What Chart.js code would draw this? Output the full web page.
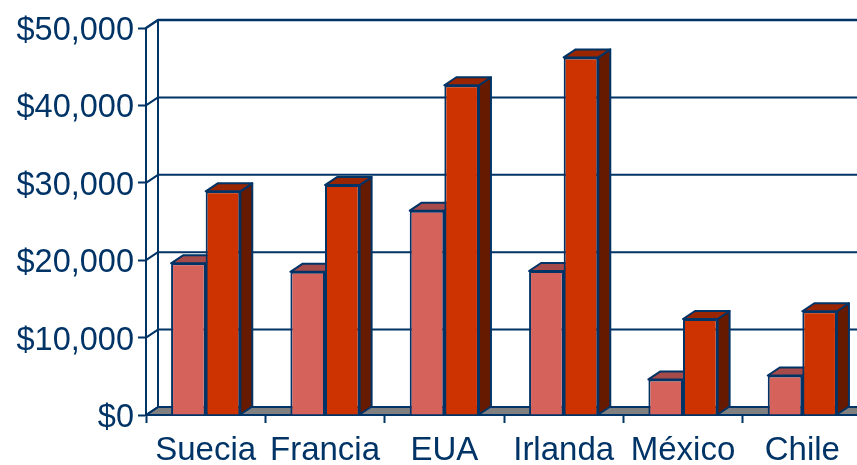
<!DOCTYPE html>
<html>
<head>
<meta charset="utf-8">
<style>
html, body { margin: 0; padding: 0; width: 857px; height: 465px; overflow: hidden; background: #fff; }
canvas { display: block; }
</style>
<script src="https://cdn.jsdelivr.net/npm/chart.js@4/dist/chart.umd.min.js"></script>
</head>
<body>
<canvas id="chart" width="862" height="465"></canvas>
<script>
const categories = ['Suecia', 'Francia', 'EUA', 'Irlanda', 'México', 'Chile'];
const lightValues = [19600, 18500, 26400, 18600, 4600, 5100];
const darkValues = [28900, 29700, 42600, 46200, 12400, 13400];
const yTicks = [0, 10000, 20000, 30000, 40000, 50000];

const navy = '#003366';
const depthX = 12;
const depthY = 8;

function poly(c, pts, fill, stroke, width) {
    c.beginPath();
    pts.forEach((p, i) => i ? c.lineTo(p[0], p[1]) : c.moveTo(p[0], p[1]));
    c.closePath();
    if (fill) {
        c.fillStyle = fill;
        c.fill();
    }
    if (stroke) {
        c.strokeStyle = stroke;
        c.lineWidth = width;
        c.stroke();
    }
}

// fake 3D: back wall, floor and the bar sides, all placed from the scales
const depthPlugin = {
    id: 'depth',
    beforeDatasetsDraw(chart) {
        const c = chart.ctx;
        const area = chart.chartArea;
        const y = chart.scales.y;
        c.save();
        c.lineJoin = 'round';

        poly(c, [
            [area.left, area.bottom],
            [area.left + depthX, area.bottom - depthY],
            [area.right + depthX, area.bottom - depthY],
            [area.right, area.bottom]
        ], '#808080', navy, 2);

        c.strokeStyle = navy;
        yTicks.forEach(v => {
            const py = y.getPixelForValue(v);
            c.lineWidth = v === 50000 ? 2.5 : 2;
            c.beginPath();
            c.moveTo(area.left, py);
            c.lineTo(area.left + depthX, py - depthY);
            c.lineTo(area.right + depthX, py - depthY);
            c.stroke();
        });
        c.lineWidth = 2;
        c.beginPath();
        c.moveTo(area.left + depthX, y.getPixelForValue(50000) - depthY);
        c.lineTo(area.left + depthX, area.bottom - depthY);
        c.stroke();

        const shades = [
            { top: '#A64B4A', side: '#7A3533' },
            { top: '#992600', side: '#661A00' }
        ];
        [0, 1].forEach(d => {
            chart.getDatasetMeta(d).data.forEach(bar => {
                const half = bar.width / 2;
                const l = bar.x - half;
                const r = bar.x + half;
                poly(c, [
                    [r, bar.y], [r + depthX, bar.y - depthY],
                    [r + depthX, bar.base - depthY], [r, bar.base]
                ], shades[d].side, navy, 2);
                poly(c, [
                    [l, bar.y], [l + depthX, bar.y - depthY],
                    [r + depthX, bar.y - depthY], [r, bar.y]
                ], shades[d].top, navy, 2);
            });
        });
        c.restore();
    }
};

new Chart(document.getElementById('chart').getContext('2d'), {
    type: 'bar',
    data: {
        labels: categories,
        datasets: [
            {
                data: lightValues,
                backgroundColor: '#D6625C',
                borderColor: navy,
                borderWidth: 2,
                categoryPercentage: 0.58,
                barPercentage: 1
            },
            {
                data: darkValues,
                backgroundColor: '#CC3300',
                borderColor: navy,
                borderWidth: 2,
                categoryPercentage: 0.58,
                barPercentage: 1
            }
        ]
    },
    options: {
        responsive: false,
        animation: false,
        layout: { padding: { top: 28, right: 0, bottom: 0, left: 0 } },
        plugins: {
            legend: { display: false },
            title: { display: false },
            tooltip: { enabled: false }
        },
        scales: {
            x: {
                afterFit: scale => { scale.height = 50; },
                border: { color: navy, width: 2 },
                grid: { drawOnChartArea: false, drawTicks: true, tickLength: 8, tickWidth: 2, tickColor: navy },
                ticks: {
                    color: navy,
                    padding: 8,
                    maxRotation: 0,
                    autoSkip: false,
                    font: { family: '"Liberation Sans", Arial, sans-serif', size: 33 }
                }
            },
            y: {
                min: 0,
                max: 50000,
                afterFit: scale => { scale.width = 146; },
                border: { color: navy, width: 2 },
                grid: { drawOnChartArea: false, drawTicks: true, tickLength: 8, tickWidth: 2, tickColor: navy },
                ticks: {
                    color: navy,
                    padding: 4,
                    stepSize: 10000,
                    labelOffset: 3,
                    font: { family: '"Liberation Sans", Arial, sans-serif', size: 32.5 },
                    callback: v => '$' + v.toLocaleString('en-US')
                }
            }
        }
    },
    plugins: [depthPlugin]
});
</script>
</body>
</html>
